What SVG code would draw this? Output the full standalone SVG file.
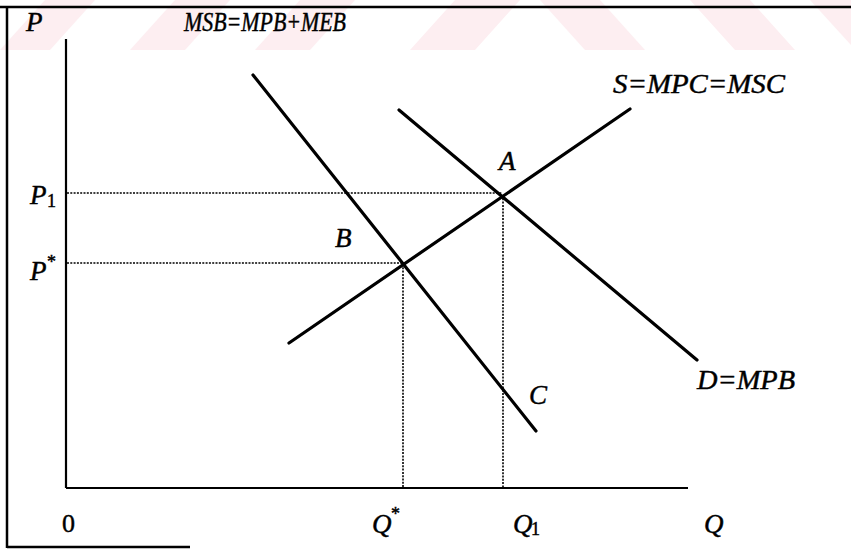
<svg xmlns="http://www.w3.org/2000/svg" width="851" height="551" viewBox="0 0 851 551">
<style>
.wm{fill:#fdeef1}
.frame{stroke:#000;stroke-width:2.5;fill:none}
.axis{stroke:#000;stroke-width:2.2;fill:none}
.curve{stroke:#000;stroke-width:3.2;stroke-linecap:round;fill:none}
.dot{stroke:#000;stroke-width:1.6;stroke-dasharray:2 1.3;fill:none}
text{font-family:"Liberation Serif","Times New Roman",serif;fill:#000;stroke:#000;stroke-width:0.45}
.lbl{font-style:italic;font-size:27px}
.num{font-size:26px}
.sub{font-size:18px}
</style>
<rect width="851" height="551" fill="#fff"/>
<g id="watermark">
<polygon class="wm" points="0,50 50,50 95,0 45,0"/>
<polygon class="wm" points="130,50 185,50 230,0 175,0"/>
<polygon class="wm" points="255,50 310,50 355,0 300,0"/>
<polygon class="wm" points="410,50 475,50 520,0 455,0"/>
<polygon class="wm" points="540,0 600,0 645,50 585,50"/>
<polygon class="wm" points="690,0 750,0 795,50 735,50"/>
<polygon class="wm" points="810,0 851,0 851,45"/>
</g>
<g id="frame">
<line class="frame" x1="0" y1="7" x2="851" y2="7"/>
<line class="frame" x1="7" y1="7" x2="7" y2="548"/>
<line class="frame" x1="7" y1="547" x2="190" y2="547"/>
</g>
<g id="axes">
<line class="axis" x1="66" y1="39" x2="66" y2="488"/>
<line class="axis" x1="66" y1="488" x2="688" y2="488"/>
</g>
<g id="connectors">
<line class="dot" x1="67" y1="193" x2="502" y2="193"/>
<line class="dot" x1="67" y1="263" x2="403" y2="263"/>
<line class="dot" x1="403" y1="264" x2="403" y2="487"/>
<line class="dot" x1="503" y1="195" x2="503" y2="487"/>
</g>
<g id="curve-MSB"><line class="curve" x1="253" y1="75" x2="536" y2="431"/></g>
<g id="curve-D"><line class="curve" x1="399" y1="110" x2="697" y2="360"/></g>
<g id="curve-S"><line class="curve" x1="289" y1="343" x2="630" y2="109"/></g>
<g id="labels">
<text class="lbl" x="26" y="31">P</text>
<text class="lbl" x="184" y="31" textLength="162" lengthAdjust="spacingAndGlyphs">MSB=MPB+MEB</text>
<text class="lbl" x="613" y="93" textLength="172" lengthAdjust="spacingAndGlyphs">S=MPC=MSC</text>
<text class="lbl" x="499" y="170">A</text>
<text class="lbl" x="30" y="204">P</text><text class="sub" x="47" y="207">1</text>
<text class="lbl" x="335" y="247">B</text>
<text class="lbl" x="30" y="280">P</text><text class="sub" x="47" y="268">*</text>
<text class="lbl" x="529" y="404">C</text>
<text class="lbl" x="697" y="389" textLength="98" lengthAdjust="spacingAndGlyphs">D=MPB</text>
<text class="num" x="62" y="532">0</text>
<text class="lbl" x="372" y="533">Q</text><text class="sub" x="391" y="520">*</text>
<text class="lbl" x="513" y="533">Q</text><text class="sub" x="531" y="535">1</text>
<text class="lbl" x="704" y="533">Q</text>
</g>
</svg>
